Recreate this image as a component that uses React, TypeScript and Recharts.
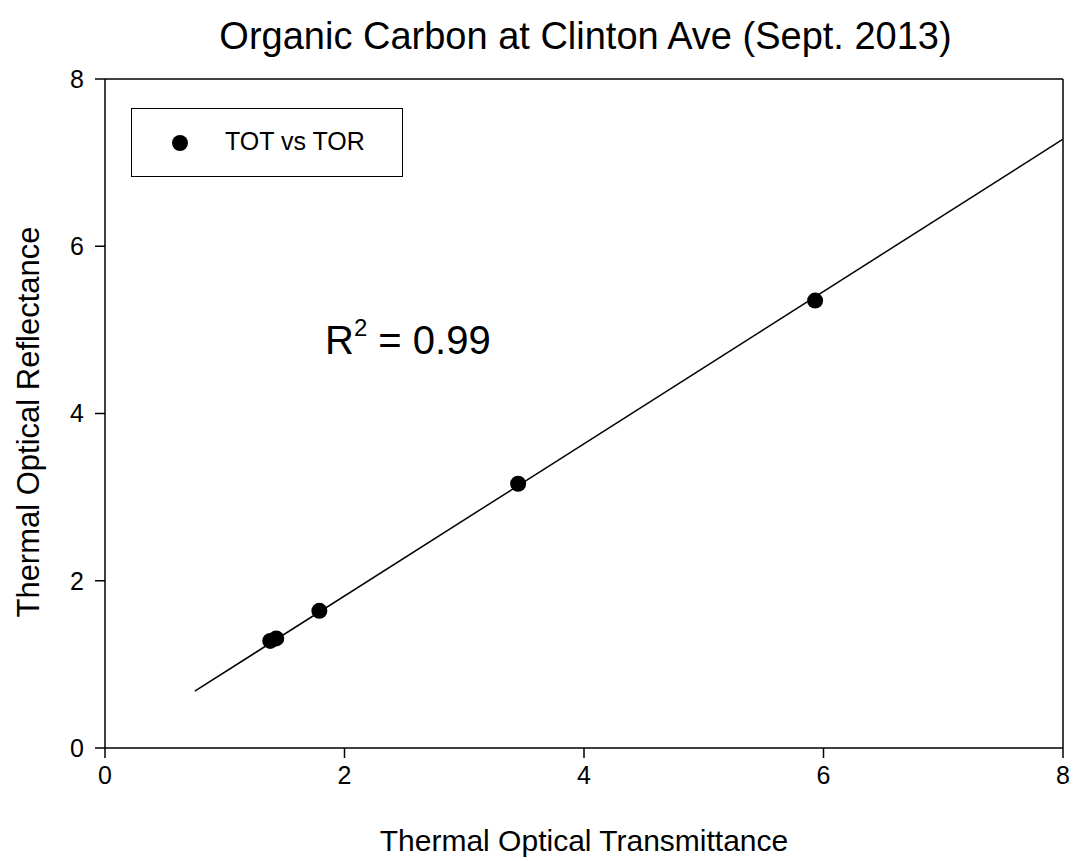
import React from 'react';
import { ScatterChart, Scatter, XAxis, YAxis, ReferenceLine } from 'recharts';

const totValues = [1.38, 1.43, 1.79, 3.45, 5.93];
const torValues = [1.28, 1.31, 1.64, 3.16, 5.35];
const fitX = [0.75, 8];
const fitY = [0.68, 7.28];
const axisTicks = [0, 2, 4, 6, 8];

const points = totValues.map((x, i) => ({ x, y: torValues[i] }));
const fitLine = fitX.map((x, i) => ({ x, y: fitY[i] }));

const FONT = '"Liberation Sans", Arial, sans-serif';

const Dot = (props: any) => {
  const { cx, cy } = props;
  if (cx == null || cy == null) return null;
  return <circle cx={cx} cy={cy} r={8} fill="#000" />;
};

const NoShape = () => null;

const YLabel = () => (
  <text
    x={28}
    y={422}
    transform="rotate(-90 28 422)"
    textAnchor="middle"
    dominantBaseline="central"
    fill="#000"
    fontSize={31}
    fontFamily={FONT}
  >
    Thermal Optical Reflectance
  </text>
);

export default function App() {
  return (
    <div style={{ position: 'absolute', left: 0, top: 0, width: 1074, height: 861, background: '#fff', fontFamily: FONT }}>
      <div
        style={{
          position: 'absolute',
          left: 0,
          top: 15,
          width: 1171,
          textAlign: 'center',
          fontSize: 38,
          color: '#000',
          whiteSpace: 'nowrap',
        }}
      >
        Organic Carbon at Clinton Ave (Sept. 2013)
      </div>
      <ScatterChart width={1074} height={861} margin={{ top: 79, right: 11, left: 0, bottom: 0 }}>
        <XAxis
          type="number"
          dataKey="x"
          domain={[0, 8]}
          ticks={axisTicks}
          allowDataOverflow
          height={113}
          tickSize={10}
          tickMargin={8}
          axisLine={{ stroke: '#000', strokeWidth: 1.5 }}
          tickLine={{ stroke: '#000', strokeWidth: 1.5 }}
          tick={{ fill: '#000', fontSize: 25, fontFamily: FONT }}
          label={{ value: 'Thermal Optical Transmittance', position: 'insideBottom', offset: 10, fill: '#000', fontSize: 30, fontFamily: FONT }}
        />
        <YAxis
          type="number"
          dataKey="y"
          domain={[0, 8]}
          ticks={axisTicks}
          allowDataOverflow
          width={105}
          tickSize={10}
          tickMargin={11}
          axisLine={{ stroke: '#000', strokeWidth: 1.5 }}
          tickLine={{ stroke: '#000', strokeWidth: 1.5 }}
          tick={{ fill: '#000', fontSize: 25, fontFamily: FONT }}
          label={{ content: YLabel }}
        />
        <ReferenceLine y={8} stroke="#000" strokeWidth={1.5} />
        <ReferenceLine x={8} stroke="#000" strokeWidth={1.5} />
        <Scatter
          name="fit"
          data={fitLine}
          line={{ stroke: '#000', strokeWidth: 1.5 }}
          shape={NoShape}
          isAnimationActive={false}
          legendType="none"
        />
        <Scatter name="TOT vs TOR" data={points} fill="#000" shape={Dot} isAnimationActive={false} />
      </ScatterChart>
      <div
        style={{
          position: 'absolute',
          left: 131,
          top: 108,
          width: 270,
          height: 67,
          border: '1px solid #000',
          background: '#fff',
        }}
      >
        <svg width={20} height={20} style={{ position: 'absolute', left: 38, top: 24 }}>
          <circle cx={10} cy={10} r={8} fill="#000" />
        </svg>
        <span style={{ position: 'absolute', left: 93, top: 18, fontSize: 25, color: '#000', whiteSpace: 'nowrap' }}>TOT vs TOR</span>
      </div>
      <div style={{ position: 'absolute', left: 325, top: 318, fontSize: 40, color: '#000', whiteSpace: 'nowrap' }}>
        R<span style={{ fontSize: 24, position: 'relative', top: -18 }}>2</span> = 0.99
      </div>
    </div>
  );
}
